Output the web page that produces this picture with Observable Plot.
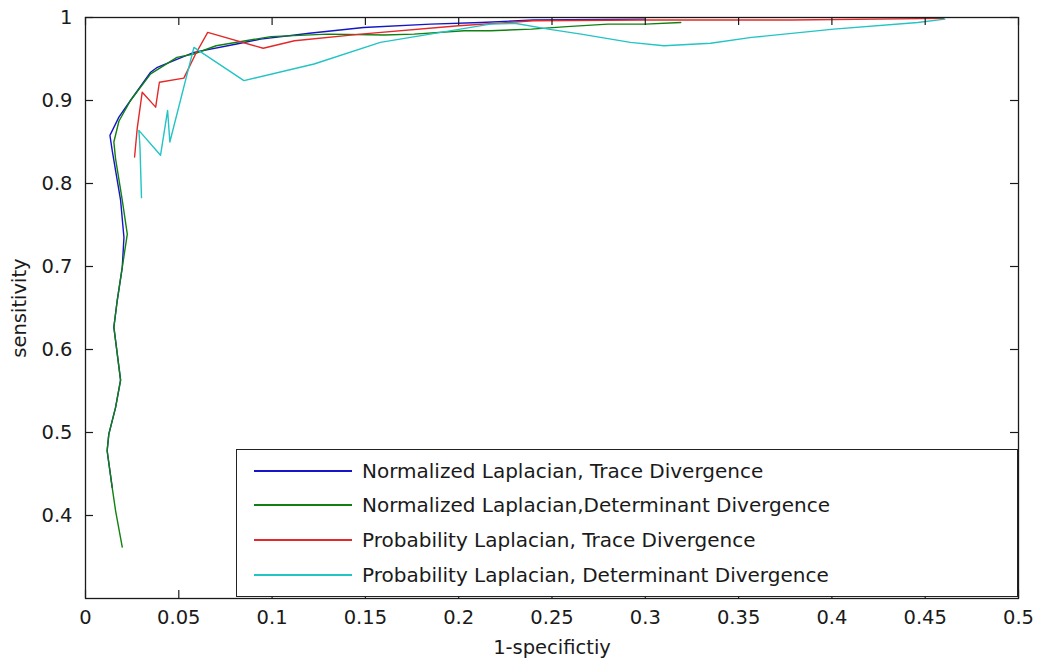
<!DOCTYPE html>
<html><head><meta charset="utf-8">
<script src="https://cdn.jsdelivr.net/npm/d3@7"></script>
<script src="https://cdn.jsdelivr.net/npm/@observablehq/plot@0.6"></script>
<style>
body{margin:0;background:#fff;}
#wrap{position:relative;width:1040px;height:666px;overflow:hidden;}
#legend{position:absolute;left:236px;top:449px;width:782px;height:148px;border:1.5px solid #222;background:#fff;box-sizing:border-box;font-family:"DejaVu Sans";font-size:20px;color:#1a1a1a;}
.row{position:absolute;left:17px;height:24px;display:flex;align-items:center;white-space:nowrap;}
.row .sw{display:inline-block;width:98px;height:2px;margin-right:10px;}
</style></head><body><div id="wrap"></div>
<script>
const seriesNames = [
  "Normalized Laplacian, Trace Divergence",
  "Normalized Laplacian,Determinant Divergence",
  "Probability Laplacian, Trace Divergence",
  "Probability Laplacian, Determinant Divergence"
];
const seriesColors = ["#1515c8", "#108010", "#e42828", "#22c4c4"];
const xTicks = [0, 0.05, 0.1, 0.15, 0.2, 0.25, 0.3, 0.35, 0.4, 0.45, 0.5];
const yTicks = [0.4, 0.5, 0.6, 0.7, 0.8, 0.9, 1];

// [1-specificity, sensitivity]
const normTrace = [
  [0.0143,0.434],[0.0116,0.478],[0.0125,0.498],[0.0161,0.530],[0.0188,0.563],[0.017,0.595],
  [0.0152,0.627],[0.017,0.659],[0.0197,0.699],[0.0206,0.735],[0.0188,0.780],[0.0143,0.840],
  [0.0131,0.858],[0.0179,0.880],[0.0241,0.900],[0.0349,0.934],[0.0385,0.940],[0.0581,0.958],
  [0.081,0.968],[0.0939,0.974],[0.12,0.981],[0.149,0.988],[0.185,0.992],[0.212,0.994],
  [0.24,0.997],[0.30,0.998]
];
const normDet = [
  [0.0197,0.362],[0.0161,0.406],[0.0143,0.434],[0.0116,0.478],[0.0125,0.498],[0.0161,0.530],
  [0.0188,0.563],[0.017,0.595],[0.0152,0.627],[0.017,0.659],[0.0197,0.699],[0.0224,0.739],
  [0.0197,0.780],[0.0161,0.830],[0.0152,0.850],[0.0179,0.875],[0.0241,0.900],[0.0349,0.932],
  [0.049,0.952],[0.058,0.956],[0.07,0.966],[0.0993,0.977],[0.13,0.980],[0.16,0.979],
  [0.176,0.980],[0.203,0.984],[0.217,0.984],[0.239,0.986],[0.258,0.989],[0.28,0.992],
  [0.30,0.992],[0.319,0.994]
];
const probTrace = [
  [0.0263,0.832],[0.0277,0.866],[0.0304,0.910],[0.0376,0.892],[0.0396,0.922],[0.0527,0.927],
  [0.059,0.956],[0.0655,0.982],[0.0952,0.963],[0.112,0.972],[0.1475,0.980],[0.2,0.990],
  [0.24,0.996],[0.3,0.997],[0.378,0.997],[0.46,0.999]
];
const probDet = [
  [0.030,0.783],[0.0292,0.844],[0.0286,0.864],[0.0402,0.834],[0.0440,0.888],[0.0452,0.850],
  [0.0581,0.964],[0.0849,0.924],[0.1225,0.944],[0.158,0.970],[0.217,0.992],[0.23,0.993],
  [0.248,0.986],[0.2656,0.980],[0.292,0.970],[0.310,0.966],[0.335,0.969],[0.357,0.976],
  [0.401,0.986],[0.446,0.994],[0.4605,0.998]
];

const seriesData = [normTrace, normDet, probTrace, probDet];
const rows = seriesData.flatMap((pts, i) => pts.map(([x, y]) => ({series: seriesNames[i], x, y})));

const W = 1040, H = 666, mL = 85, mR = 22, mT = 17, mB = 68;
const frameW = W - mL - mR, frameH = H - mT - mB, tick = 8;
const fmt = d => String(+d.toFixed(2));
const ink = "#1a1a1a";

const chart = Plot.plot({
  width: W, height: H,
  marginLeft: mL, marginRight: mR, marginTop: mT, marginBottom: mB,
  style: {fontFamily: "DejaVu Sans", fontSize: "19.5px", color: ink, background: "#fff"},
  x: {domain: [0, 0.5]},
  y: {domain: [0.3, 1]},
  color: {domain: seriesNames, range: seriesColors},
  marks: [
    Plot.line(rows, {x: "x", y: "y", z: "series", stroke: "series", strokeWidth: 1.4}),
    Plot.frame({stroke: ink, strokeWidth: 1.3}),
    Plot.ruleX(xTicks, {x: d => d, insetTop: frameH - tick, stroke: ink, strokeWidth: 1.2}),
    Plot.ruleX(xTicks, {x: d => d, insetBottom: frameH - tick, stroke: ink, strokeWidth: 1.2}),
    Plot.ruleY(yTicks, {y: d => d, insetRight: frameW - tick, stroke: ink, strokeWidth: 1.2}),
    Plot.ruleY(yTicks, {y: d => d, insetLeft: frameW - tick, stroke: ink, strokeWidth: 1.2}),
    Plot.axisX(xTicks, {anchor: "bottom", tickSize: 0, tickPadding: 12, tickFormat: fmt,
      label: "1-specifictiy", labelAnchor: "center", labelArrow: "none", labelOffset: 55}),
    Plot.axisY(yTicks, {anchor: "left", tickSize: 0, tickPadding: 13, tickFormat: fmt,
      label: "sensitivity", labelAnchor: "center", labelArrow: "none", labelOffset: 73})
  ]
});

const wrap = document.getElementById("wrap");
wrap.appendChild(chart);

const legend = document.createElement("div");
legend.id = "legend";
seriesNames.forEach((name, i) => {
  const r = document.createElement("div");
  r.className = "row";
  r.style.top = (8.5 + i * 34.7) + "px";
  const sw = document.createElement("span");
  sw.className = "sw";
  sw.style.background = seriesColors[i];
  const t = document.createElement("span");
  t.textContent = name;
  r.appendChild(sw); r.appendChild(t);
  legend.appendChild(r);
});
wrap.appendChild(legend);
</script>
</body></html>
